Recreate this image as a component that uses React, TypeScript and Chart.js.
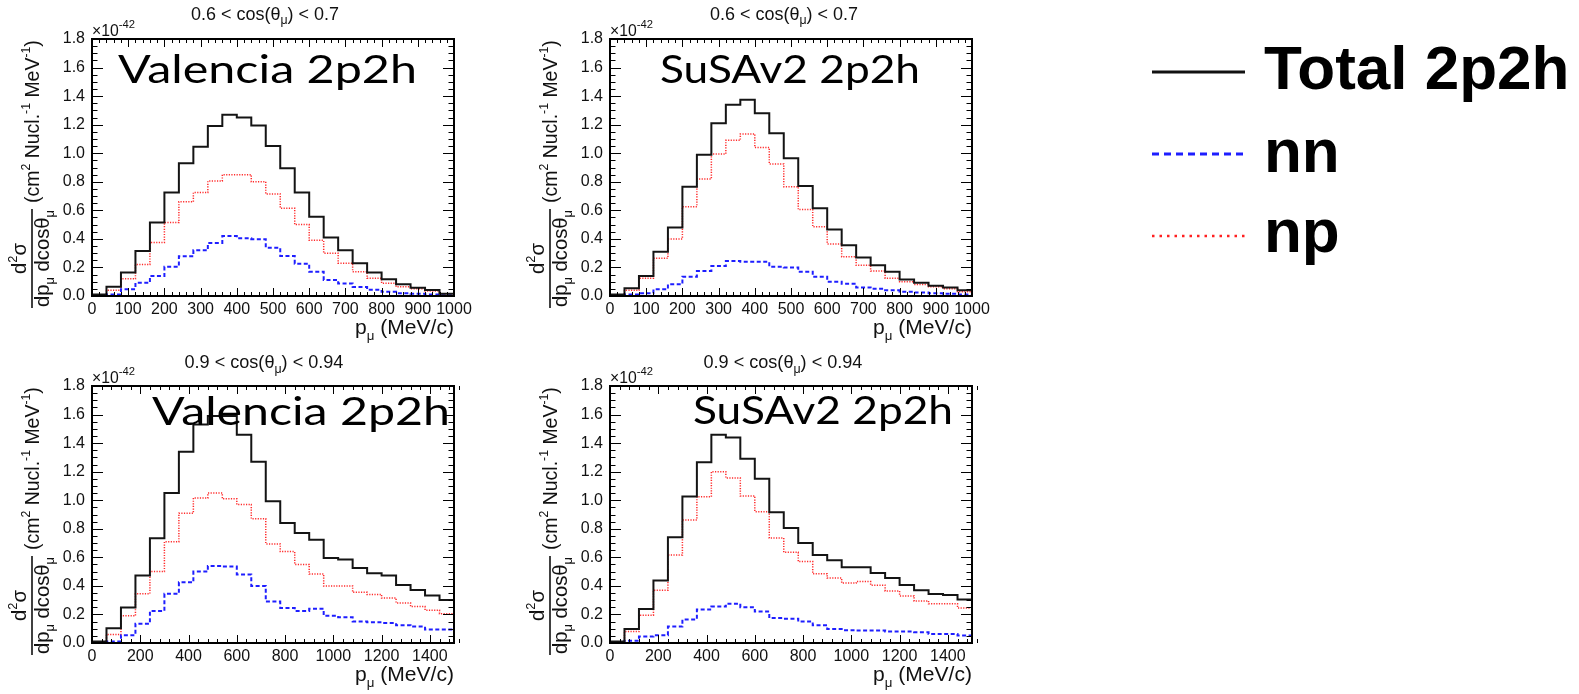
import React, { useEffect, useRef } from "react";
import { Chart, registerables } from "chart.js";

Chart.register(...registerables);

// ---------------- data (d²σ/dp dcosθ in units of 1e-42 cm² Nucl.⁻¹ MeV⁻¹) ----------------
const BIN_WIDTH_MID = 40; // MeV/c, 0.6 < cos(θμ) < 0.7
const BIN_WIDTH_FWD = 60; // MeV/c, 0.9 < cos(θμ) < 0.94
const P_MAX_MID = 1000;
const P_MAX_FWD = 1500;
const X_STEP_MID = 100;
const X_STEP_FWD = 200;
const Y_MAX = 1.8;
const Y_STEP = 0.2;

const seriesNames = ["Total 2p2h", "nn", "np"];
const modelNames = ["Valencia 2p2h", "SuSAv2 2p2h", "Valencia 2p2h", "SuSAv2 2p2h"];
const cosBins = [
  ["0.6", "0.7"],
  ["0.6", "0.7"],
  ["0.9", "0.94"],
  ["0.9", "0.94"],
];

const valenciaMidTotal = [0.01, 0.065, 0.165, 0.315, 0.515, 0.725, 0.93, 1.045, 1.19, 1.27, 1.25, 1.195, 1.05, 0.895, 0.725, 0.555, 0.41, 0.32, 0.23, 0.165, 0.117, 0.082, 0.058, 0.042, 0.015];
const valenciaMidNN = [0.003, 0.01, 0.048, 0.092, 0.14, 0.205, 0.278, 0.32, 0.372, 0.42, 0.404, 0.398, 0.338, 0.28, 0.226, 0.17, 0.112, 0.088, 0.063, 0.044, 0.03, 0.02, 0.015, 0.01, 0.005];
const valenciaMidNP = [0.005, 0.04, 0.12, 0.22, 0.375, 0.515, 0.66, 0.725, 0.805, 0.85, 0.85, 0.8, 0.715, 0.615, 0.5, 0.39, 0.3, 0.23, 0.17, 0.125, 0.09, 0.065, 0.05, 0.035, 0.015];

const susaMidTotal = [0.01, 0.055, 0.14, 0.31, 0.48, 0.765, 0.99, 1.21, 1.34, 1.375, 1.28, 1.14, 0.965, 0.77, 0.615, 0.465, 0.355, 0.27, 0.215, 0.17, 0.115, 0.093, 0.072, 0.06, 0.04];
const susaMidNN = [0.003, 0.01, 0.02, 0.047, 0.082, 0.135, 0.175, 0.21, 0.245, 0.24, 0.24, 0.205, 0.2, 0.17, 0.135, 0.1, 0.085, 0.06, 0.05, 0.04, 0.03, 0.025, 0.02, 0.015, 0.01];
const susaMidNP = [0.005, 0.04, 0.125, 0.265, 0.4, 0.625, 0.82, 0.995, 1.09, 1.135, 1.04, 0.925, 0.765, 0.605, 0.485, 0.365, 0.275, 0.215, 0.175, 0.125, 0.1, 0.08, 0.065, 0.05, 0.03];

const valenciaFwdTotal = [0.01, 0.103, 0.248, 0.472, 0.734, 1.05, 1.34, 1.53, 1.59, 1.59, 1.458, 1.27, 0.993, 0.841, 0.771, 0.724, 0.596, 0.584, 0.526, 0.488, 0.472, 0.407, 0.371, 0.332, 0.301];
const valenciaFwdNN = [0.005, 0.01, 0.055, 0.135, 0.225, 0.345, 0.425, 0.5, 0.54, 0.535, 0.48, 0.4, 0.29, 0.245, 0.225, 0.24, 0.19, 0.18, 0.15, 0.145, 0.14, 0.125, 0.115, 0.095, 0.095];
const valenciaFwdNP = [0.005, 0.06, 0.19, 0.345, 0.5, 0.71, 0.909, 1.016, 1.05, 1.01, 0.97, 0.87, 0.694, 0.64, 0.55, 0.484, 0.4, 0.4, 0.355, 0.34, 0.315, 0.28, 0.255, 0.23, 0.205];

const susaFwdTotal = [0.01, 0.098, 0.238, 0.437, 0.74, 1.026, 1.266, 1.458, 1.44, 1.29, 1.15, 0.916, 0.806, 0.7, 0.617, 0.58, 0.53, 0.53, 0.49, 0.456, 0.407, 0.37, 0.343, 0.336, 0.304];
const susaFwdNN = [0.005, 0.015, 0.045, 0.055, 0.115, 0.165, 0.235, 0.255, 0.275, 0.25, 0.22, 0.175, 0.17, 0.15, 0.125, 0.098, 0.09, 0.087, 0.087, 0.08, 0.08, 0.075, 0.063, 0.063, 0.052];
const susaFwdNP = [0.005, 0.08, 0.195, 0.37, 0.617, 0.862, 1.025, 1.2, 1.155, 1.03, 0.92, 0.735, 0.635, 0.57, 0.485, 0.455, 0.42, 0.43, 0.405, 0.365, 0.33, 0.295, 0.275, 0.275, 0.245];

// ---------------- styling / layout (kept apart from data) ----------------
const FONT = '"Liberation Sans", Arial, Helvetica, sans-serif';
const MODEL_FONT = 'Lato, "Noto Sans", sans-serif';
const CANVAS_W = 518;
const CANVAS_H = 347;

const seriesStyles = [
  { color: "#141414", width: 2, dash: [] as number[] },
  { color: "#1e1eff", width: 2, dash: [4, 2.5] },
  { color: "#ff2b2b", width: 1.5, dash: [1.2, 1.4] },
];

const panelLayouts = [
  { left: 0, top: 0, titleBase: 20, titleW: 148, titleCx: 265, labelLeft: 118, labelRight: 417, labelBase: 83 },
  { left: 518, top: 0, titleBase: 20, titleW: 148, titleCx: 266, labelLeft: 142, labelRight: 402, labelBase: 83 },
  { left: 0, top: 347, titleBase: 21, titleW: 159, titleCx: 264, labelLeft: 152, labelRight: 450, labelBase: 78 },
  { left: 518, top: 347, titleBase: 21, titleW: 159, titleCx: 265, labelLeft: 175, labelRight: 435, labelBase: 77 },
];

const panelData = [
  { series: [valenciaMidTotal, valenciaMidNN, valenciaMidNP], binWidth: BIN_WIDTH_MID, pMax: P_MAX_MID, xStep: X_STEP_MID, xMinorDiv: 5 },
  { series: [susaMidTotal, susaMidNN, susaMidNP], binWidth: BIN_WIDTH_MID, pMax: P_MAX_MID, xStep: X_STEP_MID, xMinorDiv: 5 },
  { series: [valenciaFwdTotal, valenciaFwdNN, valenciaFwdNP], binWidth: BIN_WIDTH_FWD, pMax: P_MAX_FWD, xStep: X_STEP_FWD, xMinorDiv: 5 },
  { series: [susaFwdTotal, susaFwdNN, susaFwdNP], binWidth: BIN_WIDTH_FWD, pMax: P_MAX_FWD, xStep: X_STEP_FWD, xMinorDiv: 5 },
];

type Seg = { t: string; s: number; dy?: number };

function segsWidth(ctx: CanvasRenderingContext2D, segs: Seg[]) {
  let w = 0;
  for (const s of segs) {
    ctx.font = `${s.s}px ${FONT}`;
    w += ctx.measureText(s.t).width;
  }
  return w;
}

function scaleSegs(segs: Seg[], k: number): Seg[] {
  return segs.map((s) => ({ t: s.t, s: s.s * k, dy: (s.dy || 0) * k }));
}

function fitSegs(ctx: CanvasRenderingContext2D, segs: Seg[], target: number): Seg[] {
  const w = segsWidth(ctx, segs);
  return scaleSegs(segs, w > 0 ? target / w : 1);
}

function drawSegs(ctx: CanvasRenderingContext2D, segs: Seg[], x: number, y: number) {
  let cx = x;
  for (const s of segs) {
    ctx.font = `${s.s}px ${FONT}`;
    ctx.fillText(s.t, cx, y + (s.dy || 0));
    cx += ctx.measureText(s.t).width;
  }
}

function histogramPoints(values: number[], binWidth: number) {
  const pts = values.map((v, i) => ({ x: i * binWidth, y: v }));
  pts.push({ x: values.length * binWidth, y: values[values.length - 1] });
  return pts;
}

function makeRootPlugin(idx: number) {
  const layout = panelLayouts[idx];
  const pd = panelData[idx];
  return {
    id: "rootStyle" + idx,
    afterDraw(chart: any) {
      const ctx: CanvasRenderingContext2D = chart.ctx;
      const { left, right, top, bottom } = chart.chartArea;
      const xs = chart.scales.x;
      const ys = chart.scales.y;
      ctx.save();
      ctx.strokeStyle = "#000";
      ctx.fillStyle = "#000";
      ctx.textAlign = "left";
      ctx.textBaseline = "alphabetic";

      // inward ticks on all four sides
      ctx.lineWidth = 1;
      ctx.beginPath();
      const xMinor = pd.xStep / pd.xMinorDiv;
      const nx = Math.round(pd.pMax / xMinor);
      for (let i = 0; i <= nx; i++) {
        const px = Math.round(xs.getPixelForValue(i * xMinor)) + 0.5;
        const len = i % pd.xMinorDiv === 0 ? 8 : 4;
        ctx.moveTo(px, bottom);
        ctx.lineTo(px, bottom - len);
        ctx.moveTo(px, top);
        ctx.lineTo(px, top + len);
      }
      const yMinorDiv = 4;
      const yMinor = Y_STEP / yMinorDiv;
      const ny = Math.round(Y_MAX / yMinor);
      for (let i = 0; i <= ny; i++) {
        const py = Math.round(ys.getPixelForValue(i * yMinor)) + 0.5;
        const len = i % yMinorDiv === 0 ? 11 : 5.5;
        ctx.moveTo(left, py);
        ctx.lineTo(left + len, py);
        ctx.moveTo(right, py);
        ctx.lineTo(right - len, py);
      }
      ctx.stroke();

      // frame
      ctx.lineWidth = 2;
      ctx.strokeRect(left, top, right - left, bottom - top);

      ctx.fillStyle = "#111";
      // panel title
      const [lo, hi] = cosBins[idx];
      const title = fitSegs(
        ctx,
        [
          { t: `${lo} < cos(θ`, s: 16 },
          { t: "μ", s: 11, dy: 4 },
          { t: `) < ${hi}`, s: 16 },
        ],
        layout.titleW
      );
      drawSegs(ctx, title, layout.titleCx - layout.titleW / 2, layout.titleBase);

      // exponent
      const expo = fitSegs(ctx, [{ t: "×10", s: 14 }, { t: "-42", s: 10, dy: -7 }], 43);
      drawSegs(ctx, expo, left, top - 3);

      // x-axis title
      const xt = fitSegs(
        ctx,
        [
          { t: "p", s: 19 },
          { t: "μ", s: 12, dy: 5 },
          { t: " (MeV/c)", s: 19 },
        ],
        99
      );
      drawSegs(ctx, xt, right - 99, bottom + 38);

      // y-axis title (rotated fraction + units)
      const den = fitSegs(
        ctx,
        [
          { t: "dp", s: 19 },
          { t: "μ", s: 12, dy: 5 },
          { t: " dcosθ", s: 19 },
          { t: "μ", s: 12, dy: 5 },
        ],
        97
      );
      const kDen = den[0].s / 19;
      const num = scaleSegs(
        [
          { t: "d", s: 19 },
          { t: "2", s: 12, dy: -8 },
          { t: "σ", s: 19 },
        ],
        kDen
      );
      const units = fitSegs(
        ctx,
        [
          { t: "(cm", s: 19 },
          { t: "2", s: 12, dy: -8 },
          { t: " Nucl.", s: 19 },
          { t: "-1", s: 12, dy: -8 },
          { t: " MeV", s: 19 },
          { t: "-1", s: 12, dy: -8 },
          { t: ")", s: 19 },
        ],
        163
      );
      const y0 = bottom + 11;
      const dW = 97;
      const nW = segsWidth(ctx, num);
      ctx.save();
      ctx.rotate(-Math.PI / 2);
      drawSegs(ctx, den, -y0, left - 43);
      drawSegs(ctx, num, -y0 + dW / 2 - nW / 2, left - 66.5);
      ctx.lineWidth = 1.5;
      ctx.beginPath();
      ctx.moveTo(-y0 - 1, left - 60);
      ctx.lineTo(-y0 + dW + 1, left - 60);
      ctx.stroke();
      drawSegs(ctx, units, -y0 + dW + 7, left - 53.5);
      ctx.restore();

      // model label
      ctx.fillStyle = "#000";
      ctx.font = `400 39px ${MODEL_FONT}`;
      const mw = ctx.measureText(modelNames[idx]).width;
      const target = layout.labelRight - layout.labelLeft;
      ctx.save();
      ctx.translate(layout.labelLeft, layout.labelBase);
      ctx.scale(target / mw, 1);
      ctx.fillText(modelNames[idx], 0, 0);
      ctx.restore();

      ctx.restore();
    },
  };
}

function Panel({ idx }: { idx: number }) {
  const ref = useRef<HTMLCanvasElement | null>(null);
  useEffect(() => {
    const canvas = ref.current;
    if (!canvas) return;
    const pd = panelData[idx];
    const chart = new Chart(canvas, {
      type: "line",
      data: {
        datasets: pd.series.map((vals, i) => ({
          label: seriesNames[i],
          data: histogramPoints(vals, pd.binWidth),
          borderColor: seriesStyles[i].color,
          borderWidth: seriesStyles[i].width,
          borderDash: seriesStyles[i].dash,
          stepped: "before" as const,
          pointRadius: 0,
          fill: false,
          tension: 0,
        })),
      },
      options: {
        animation: false,
        responsive: false,
        maintainAspectRatio: false,
        devicePixelRatio: 1,
        events: [],
        layout: { padding: { left: 0, top: 39, right: 64, bottom: 0 } },
        plugins: {
          legend: { display: false },
          tooltip: { enabled: false },
          title: { display: false },
        },
        scales: {
          x: {
            type: "linear",
            min: 0,
            max: pd.pMax,
            grid: { display: false, drawTicks: false, tickLength: 0 },
            border: { display: false },
            ticks: {
              stepSize: pd.xStep,
              includeBounds: false,
              autoSkip: false,
              maxRotation: 0,
              padding: 4,
              color: "#111",
              font: { family: FONT, size: 16 },
              callback: (v: any) => String(v),
            },
            afterFit: (s: any) => {
              s.height = 51;
            },
          },
          y: {
            type: "linear",
            min: 0,
            max: Y_MAX,
            grid: { display: false, drawTicks: false, tickLength: 0 },
            border: { display: false },
            ticks: {
              stepSize: Y_STEP,
              autoSkip: false,
              padding: 7,
              color: "#111",
              font: { family: FONT, size: 16 },
              callback: (v: any) => Number(v).toFixed(1),
            },
            afterFit: (s: any) => {
              s.width = 92;
            },
          },
        },
      } as any,
      plugins: [makeRootPlugin(idx)],
    });
    let alive = true;
    if ((document as any).fonts && (document as any).fonts.ready) {
      (document as any).fonts.ready.then(() => {
        if (alive) chart.update("none");
      });
    }
    return () => {
      alive = false;
      chart.destroy();
    };
  }, [idx]);
  const l = panelLayouts[idx];
  return (
    <canvas
      ref={ref}
      width={CANVAS_W}
      height={CANVAS_H}
      style={{ position: "absolute", left: l.left, top: l.top, width: CANVAS_W, height: CANVAS_H, display: "block" }}
    />
  );
}

const legendRows = [
  { text: seriesNames[0], lineY: 72, textTop: 37 },
  { text: seriesNames[1], lineY: 154, textTop: 120 },
  { text: seriesNames[2], lineY: 236, textTop: 200 },
];

export default function App() {
  return (
    <div
      style={{
        position: "absolute",
        left: 0,
        top: 0,
        width: 1579,
        height: 694,
        background: "#fff",
        overflow: "hidden",
      }}
    >
      {panelLayouts.map((_, i) => (
        <Panel key={i} idx={i} />
      ))}
      <svg width={110} height={260} style={{ position: "absolute", left: 1145, top: 0 }}>
        <line x1={7} x2={100} y1={legendRows[0].lineY} y2={legendRows[0].lineY} stroke="#111" strokeWidth={3} />
        <line x1={7} x2={100} y1={legendRows[1].lineY} y2={legendRows[1].lineY} stroke="#1e1eff" strokeWidth={3} strokeDasharray="7 5" />
        <line x1={7} x2={100} y1={legendRows[2].lineY} y2={legendRows[2].lineY} stroke="#ff2020" strokeWidth={2.5} strokeDasharray="2.5 5" />
      </svg>
      {legendRows.map((r) => (
        <div
          key={r.text}
          style={{
            position: "absolute",
            left: 1264,
            top: r.textTop,
            fontFamily: FONT,
            fontWeight: 700,
            fontSize: 62,
            lineHeight: "62px",
            color: "#000",
            whiteSpace: "nowrap",
          }}
        >
          {r.text}
        </div>
      ))}
    </div>
  );
}
